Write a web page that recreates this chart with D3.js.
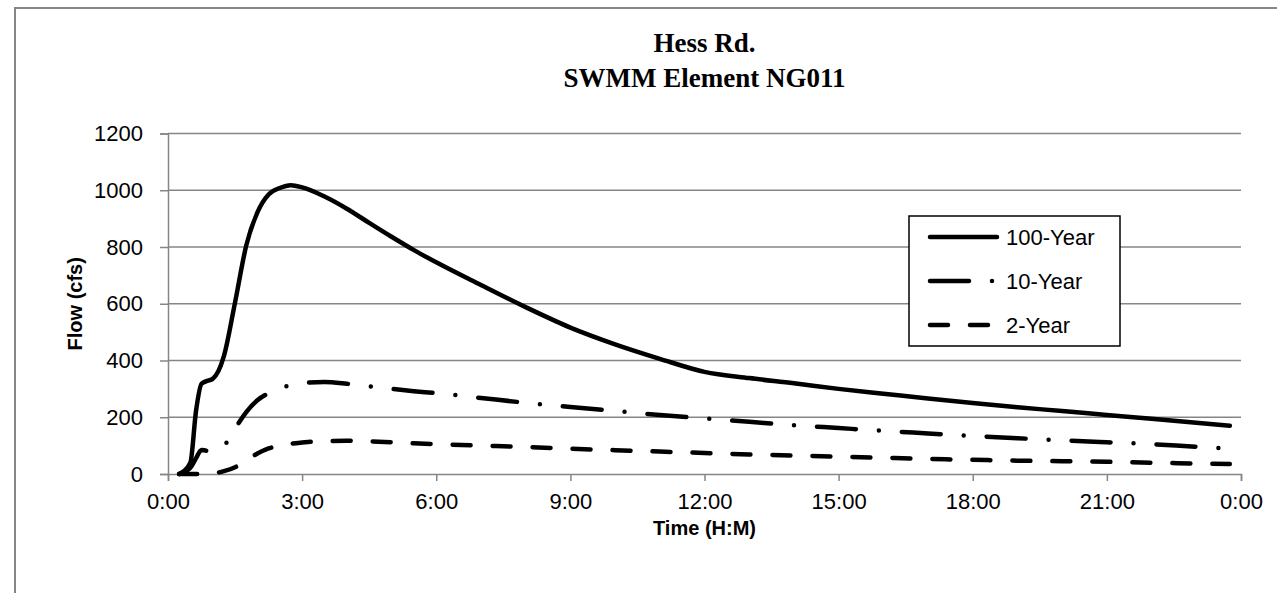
<!DOCTYPE html>
<html>
<head>
<meta charset="utf-8">
<script src="https://cdn.jsdelivr.net/npm/d3@7"></script>
<style>
  html, body { margin: 0; padding: 0; background: #fff; }
  svg { display: block; }
</style>
</head>
<body>
<svg id="chart" width="1277" height="593"></svg>
<script>
// ---- DATA ----
const titleLines = ["Hess Rd.", "SWMM Element NG011"];
const yLabel = "Flow (cfs)";
const xLabel = "Time (H:M)";
// time in hours since start
const times = [0.25, 0.5, 0.625, 0.75, 0.875, 1, 1.25, 1.5, 1.75, 2, 2.25, 2.5, 2.75, 3, 3.5, 4, 4.5, 5, 5.5, 6, 7, 8, 9, 10, 11, 12, 13, 14, 15, 16, 17, 18, 19, 20, 21, 22, 23, 23.75];
const year100 = [0, 40, 220, 318, 328, 335, 415, 605, 805, 922, 985, 1008, 1018, 1010, 978, 935, 885, 836, 789, 746, 666, 588, 516, 457, 406, 360, 338, 320, 300, 283, 266, 250, 235, 222, 208, 195, 181, 170];
const year10  = [0, 22, 55, 85, 82, 82, 100, 160, 218, 260, 285, 302, 313, 320, 324, 318, 309, 300, 292, 285, 268, 251, 236, 222, 208, 196, 184, 172, 162, 152, 143, 134, 126, 119, 112, 105, 96, 90];
const year2   = [0, 0, 0, 0, 1, 2, 10, 24, 48, 72, 90, 100, 107, 111, 116, 117, 115, 112, 108, 105, 100, 95, 89, 84, 79, 74, 69, 65, 61, 57, 53, 50, 47, 45, 43, 40, 37, 35];
const seriesNames = ["100-Year", "10-Year", "2-Year"];
const xTickHours = [0, 3, 6, 9, 12, 15, 18, 21, 24];
const xTickLabels = ["0:00", "3:00", "6:00", "9:00", "12:00", "15:00", "18:00", "21:00", "0:00"];
const yTicks = [0, 200, 400, 600, 800, 1000, 1200];

// ---- STYLES ----
const dashes = { "100-Year": null, "10-Year": "39 23 0 23", "2-Year": "18 22" };
const gridColor = "#868686";
const tickFont = "Liberation Sans, Arial, sans-serif";

const svg = d3.select("#chart");
const W = 1277, H = 593;
const plot = { left: 168, right: 1241, top: 133.5, bottom: 474 };

// chart outer border (partially visible)
svg.append("rect").attr("x", 15).attr("y", 8).attr("width", W + 20).attr("height", H + 20)
  .attr("fill", "#fff").attr("stroke", gridColor).attr("stroke-width", 2);

const x = d3.scaleLinear().domain([0, 24]).range([plot.left, plot.right]);
const y = d3.scaleLinear().domain([0, 1200]).range([plot.bottom, plot.top]);

// gridlines
svg.append("g").selectAll("line").data(yTicks.filter(d => d > 0)).join("line")
  .attr("x1", plot.left).attr("x2", plot.right)
  .attr("y1", d => y(d)).attr("y2", d => y(d))
  .attr("stroke", gridColor).attr("stroke-width", 1.5);

// y axis
const yAxis = d3.axisLeft(y).tickValues(yTicks).tickSize(8).tickPadding(17).tickFormat(d3.format("d"));
const gy = svg.append("g").attr("transform", `translate(${plot.left},0)`).call(yAxis);
gy.select(".domain").attr("stroke", gridColor).attr("stroke-width", 1.5);
gy.selectAll(".tick line").attr("stroke", gridColor).attr("stroke-width", 1.5);
gy.selectAll(".tick text").attr("font-family", tickFont).attr("font-size", 22).attr("fill", "#000");

// x axis
const xAxis = d3.axisBottom(x).tickValues(xTickHours).tickSize(7).tickPadding(12)
  .tickFormat((d, i) => xTickLabels[i]);
const gx = svg.append("g").attr("transform", `translate(0,${plot.bottom})`).call(xAxis);
gx.select(".domain").attr("stroke", gridColor).attr("stroke-width", 1.5);
gx.selectAll(".tick line").attr("stroke", gridColor).attr("stroke-width", 1.5);
gx.selectAll(".tick text").attr("font-family", tickFont).attr("font-size", 22).attr("fill", "#000");

// lines
const seriesData = [year100, year10, year2];
const line = d3.line().x(d => x(d[0])).y(d => y(d[1])).curve(d3.curveMonotoneX);
seriesNames.forEach((name, i) => {
  const pts = times.map((t, j) => [t, seriesData[i][j]]);
  svg.append("path").datum(pts).attr("d", line)
    .attr("fill", "none").attr("stroke", "#000").attr("stroke-width", 4.5)
    .attr("stroke-linecap", "round").attr("stroke-linejoin", "round")
    .attr("stroke-dasharray", dashes[name]);
});

// title
const title = svg.append("text").attr("text-anchor", "middle")
  .attr("font-family", "Liberation Serif, Times New Roman, serif").attr("font-weight", "bold")
  .attr("font-size", 27).attr("fill", "#000");
title.selectAll("tspan").data(titleLines).join("tspan")
  .attr("x", (plot.left + plot.right) / 2).attr("y", (d, i) => 52 + i * 35).text(d => d);

// axis titles
svg.append("text").attr("text-anchor", "middle")
  .attr("transform", `translate(82,${(plot.top + plot.bottom) / 2}) rotate(-90)`)
  .attr("font-family", tickFont).attr("font-weight", "bold").attr("font-size", 20).text(yLabel);
svg.append("text").attr("text-anchor", "middle")
  .attr("x", (plot.left + plot.right) / 2).attr("y", 535)
  .attr("font-family", tickFont).attr("font-weight", "bold").attr("font-size", 20).text(xLabel);

// legend
const lg = svg.append("g");
lg.append("rect").attr("x", 909).attr("y", 216).attr("width", 211).attr("height", 130)
  .attr("fill", "#fff").attr("stroke", "#000").attr("stroke-width", 1.5);
seriesNames.forEach((name, i) => {
  const ly = 237 + i * 44;
  lg.append("line").attr("x1", 930).attr("x2", 997).attr("y1", ly).attr("y2", ly)
    .attr("stroke", "#000").attr("stroke-width", 4.5).attr("stroke-linecap", "round")
    .attr("stroke-dasharray", dashes[name]);
  lg.append("text").attr("x", 1006).attr("y", ly).attr("dy", "0.36em")
    .attr("font-family", tickFont).attr("font-size", 22).text(name);
});
</script>
</body>
</html>
